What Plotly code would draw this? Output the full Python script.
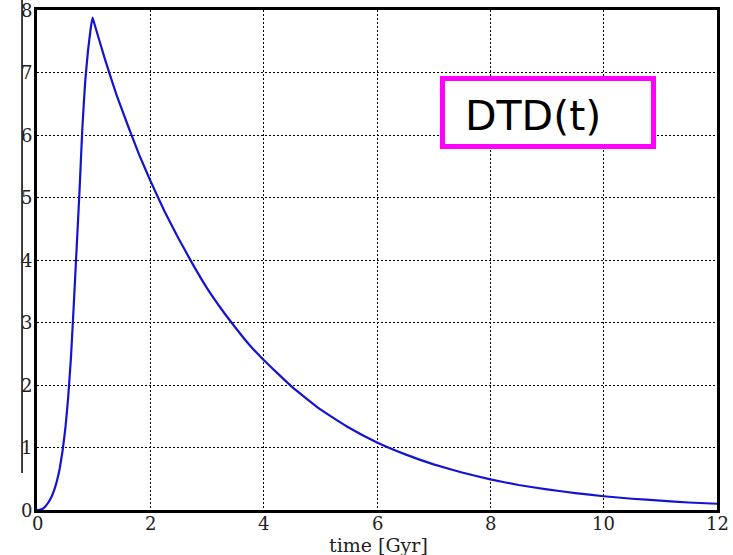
import plotly.graph_objects as go

# Data
time_gyr = [0.0, 0.05, 0.1, 0.15, 0.2, 0.25, 0.3, 0.35, 0.4, 0.45, 0.5, 0.55, 0.6, 0.65,
            0.7, 0.75, 0.8, 0.85, 0.9, 0.95, 0.98,
            1.0, 1.2, 1.4, 1.6, 1.8, 2.0, 2.25, 2.5, 2.75, 3.0, 3.25, 3.5, 3.75, 4.0,
            4.5, 5.0, 5.5, 6.0, 6.5, 7.0, 7.5, 8.0, 8.5, 9.0, 9.5, 10.0, 10.5, 11.0,
            11.5, 12.0]
dtd = [0.0, 0.003, 0.02, 0.06, 0.12, 0.2, 0.31, 0.46, 0.66, 0.94, 1.3, 1.8, 2.45, 3.3,
       4.2, 5.1, 6.1, 6.85, 7.35, 7.72, 7.88,
       7.82, 7.21, 6.65, 6.16, 5.69, 5.27, 4.78, 4.34, 3.93, 3.55, 3.22, 2.92, 2.64, 2.40,
       1.97, 1.61, 1.32, 1.08, 0.89, 0.73, 0.60, 0.49, 0.40, 0.33, 0.27, 0.22, 0.18, 0.15,
       0.12, 0.10]

x_ticks = [0, 2, 4, 6, 8, 10, 12]
y_ticks = [0, 1, 2, 3, 4, 5, 6, 7, 8]
label_text = "DTD(t)"
x_title = "time [Gyr]"

fig = go.Figure()
fig.add_trace(go.Scatter(
    x=time_gyr, y=dtd, mode="lines",
    line=dict(color="#1414d0", width=2.2, shape="spline", smoothing=0.3),
    showlegend=False, hoverinfo="skip",
))

tick_font = dict(family="DejaVu Serif", size=18, color="#222")

# tick labels placed on the axes' own scales
tick_annotations = []
for v in x_ticks:
    tick_annotations.append(dict(
        text=str(v), xref="x", yref="paper", x=v, y=-0.026,
        showarrow=False, font=tick_font, xanchor="center", yanchor="middle"))
for v in y_ticks:
    tick_annotations.append(dict(
        text=str(v), xref="paper", yref="y", x=-0.0044, y=v,
        showarrow=False, font=tick_font, xanchor="right", yanchor="middle"))

fig.update_layout(
    width=733, height=555,
    margin=dict(l=37, r=16, t=10, b=45, autoexpand=False),
    paper_bgcolor="white", plot_bgcolor="white",
    xaxis=dict(
        range=[0, 12], tickvals=x_ticks, showticklabels=False,
        showgrid=True, gridcolor="black", gridwidth=1, griddash="2px,2px",
        zeroline=False, showline=True, linecolor="black", linewidth=3, mirror=True,
        ticks="", ticklen=0, automargin=False,
    ),
    yaxis=dict(
        range=[0, 8], tickvals=y_ticks, showticklabels=False,
        showgrid=True, gridcolor="black", gridwidth=1, griddash="2px,2px",
        zeroline=False, showline=True, linecolor="black", linewidth=3, mirror=True,
        ticks="", ticklen=0, automargin=False,
    ),
    shapes=[
        dict(type="rect", xref="paper", yref="paper",
             x0=0.5963, x1=0.9066, y0=0.727, y1=0.863,
             line=dict(color="#ff00ff", width=5), fillcolor="white", layer="above"),
        dict(type="line", xref="paper", yref="paper",
             x0=-0.022, x1=-0.022, y0=0.074, y1=1.02,
             line=dict(color="black", width=1.5)),
    ],
    annotations=tick_annotations + [
        dict(text=label_text, xref="paper", yref="paper", x=0.729, y=0.788,
             showarrow=False, font=dict(family="DejaVu Sans", size=41, color="black"),
             xanchor="center", yanchor="middle"),
        dict(text=x_title, xref="paper", yref="paper", x=0.5015, y=-0.096,
             showarrow=False, font=dict(family="DejaVu Serif", size=19, color="#222"),
             xanchor="center", yanchor="bottom"),
    ],
)

fig.write_html("out.html")
